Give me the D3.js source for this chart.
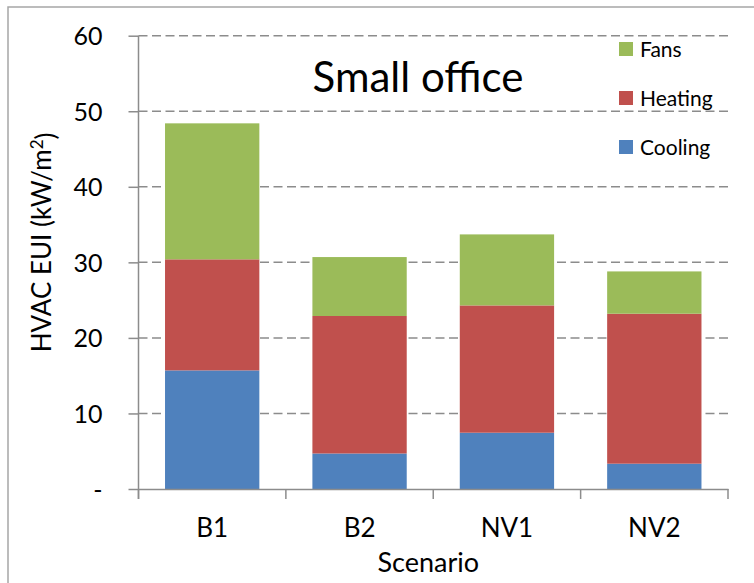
<!DOCTYPE html>
<html>
<head>
<meta charset="utf-8">
<script src="https://cdn.jsdelivr.net/npm/d3@7"></script>
<style>
  body { margin: 0; background: #fff; }
  svg text { font-family: Lato, "Open Sans", sans-serif; fill: #000; }
</style>
</head>
<body>
<div id="chart"></div>
<script>
// chart data
const scenarios = ["B1", "B2", "NV1", "NV2"];
const cooling = [15.7, 4.7, 7.45, 3.35];
const heating = [14.7, 18.2, 16.85, 19.85];
const fans = [18.0, 7.8, 9.4, 5.6];
const seriesNames = ["Cooling", "Heating", "Fans"];
const yTicks = [0, 10, 20, 30, 40, 50, 60];

const colors = { Cooling: "#4F81BD", Heating: "#C0504D", Fans: "#9BBB59" };

const chartWidth = 754, chartHeight = 583;
const margin = { top: 35.7, right: 26, bottom: 94, left: 138.5 };
const width = chartWidth - margin.left - margin.right;
const height = chartHeight - margin.top - margin.bottom;

const rows = scenarios.map((s, i) => ({
  scenario: s, Cooling: cooling[i], Heating: heating[i], Fans: fans[i]
}));

const $svg = d3.select("#chart").append("svg")
  .attr("width", chartWidth)
  .attr("height", chartHeight);

// chart area border (Excel style)
$svg.append("rect")
  .attr("x", 8).attr("y", 7)
  .attr("width", chartWidth + 20).attr("height", chartHeight + 20)
  .attr("fill", "none")
  .attr("stroke", "#a6a6a6")
  .attr("stroke-width", 1.5);

const $g = $svg.append("g")
  .attr("transform", `translate(${margin.left},${margin.top})`);

const xScale = d3.scaleBand()
  .domain(scenarios)
  .range([0, width])
  .paddingInner(0.36)
  .paddingOuter(0.18);

const yScale = d3.scaleLinear()
  .domain([0, 60])
  .range([height, 0]);

// dashed gridlines
$g.append("g").selectAll("line")
  .data(yTicks.filter(d => d > 0))
  .join("line")
  .attr("x1", 0).attr("x2", width)
  .attr("y1", d => yScale(d)).attr("y2", d => yScale(d))
  .attr("stroke", "#8c8c8c")
  .attr("stroke-width", 1.5)
  .attr("stroke-dasharray", "9,4.5");

// stacked bars
const stack = d3.stack().keys(seriesNames);
const layers = stack(rows);

$g.append("g").selectAll("g")
  .data(layers)
  .join("g")
  .attr("fill", d => colors[d.key])
  .selectAll("rect")
  .data(d => d)
  .join("rect")
  .attr("x", d => xScale(d.data.scenario))
  .attr("width", xScale.bandwidth())
  .attr("y", d => yScale(d[1]))
  .attr("height", d => yScale(d[0]) - yScale(d[1]));

// y axis
const $yAxis = $g.append("g")
  .call(d3.axisLeft(yScale)
    .tickValues(yTicks)
    .tickFormat(d => d === 0 ? "-" : d)
    .tickSize(10)
    .tickSizeOuter(0)
    .tickPadding(26));
$yAxis.select(".domain").remove();
$yAxis.append("line")
  .attr("x1", 0).attr("x2", 0)
  .attr("y1", 0).attr("y2", height + 10);
$yAxis.selectAll("line").attr("stroke", "#8c8c8c").attr("stroke-width", 1.5);
$yAxis.selectAll("text")
  .style("font-size", "25px")
  .attr("dy", "0.36em");

// x axis
const $xAxis = $g.append("g")
  .attr("transform", `translate(0,${height})`)
  .call(d3.axisBottom(xScale).tickSize(0).tickPadding(30));
$xAxis.select(".domain")
  .attr("stroke", "#8c8c8c")
  .attr("stroke-width", 1.5);
$xAxis.selectAll("text").style("font-size", "26px");

// category boundary ticks
const step = xScale.step();
const gap = step - xScale.bandwidth();
const bounds = scenarios.map(s => xScale(s) - gap / 2).concat([width]);
$xAxis.selectAll(".bound")
  .data(bounds)
  .join("line")
  .attr("class", "bound")
  .attr("x1", d => d).attr("x2", d => d)
  .attr("y1", 0).attr("y2", 10)
  .attr("stroke", "#8c8c8c")
  .attr("stroke-width", 1.5);

// x axis label
$g.append("text")
  .attr("x", width / 2 - 5)
  .attr("y", height + 83)
  .attr("text-anchor", "middle")
  .style("font-size", "27px")
  .text("Scenario");

// y axis label
const $yLabel = $svg.append("text")
  .attr("transform", `translate(51,${margin.top + height / 2 - 20}) rotate(-90)`)
  .attr("text-anchor", "middle")
  .style("font-size", "26px");
$yLabel.append("tspan").text("HVAC EUI (kW/m");
$yLabel.append("tspan").attr("dy", "-0.45em").style("font-size", "17px").text("2");
$yLabel.append("tspan").attr("dy", "0.45em").text(")");

// title
$svg.append("text")
  .attr("x", 418)
  .attr("y", 92)
  .attr("text-anchor", "middle")
  .style("font-size", "42px")
  .text("Small office");

// legend
const legendOrder = ["Fans", "Heating", "Cooling"];
const $legend = $svg.append("g")
  .attr("transform", "translate(619,42)");
const $item = $legend.selectAll("g")
  .data(legendOrder)
  .join("g")
  .attr("transform", (d, i) => `translate(0,${i * 49})`);
$item.append("rect")
  .attr("width", 14).attr("height", 14)
  .attr("fill", d => colors[d]);
$item.append("text")
  .attr("x", 21)
  .attr("y", 14.5)
  .style("font-size", "21px")
  .text(d => d);
</script>
</body>
</html>
